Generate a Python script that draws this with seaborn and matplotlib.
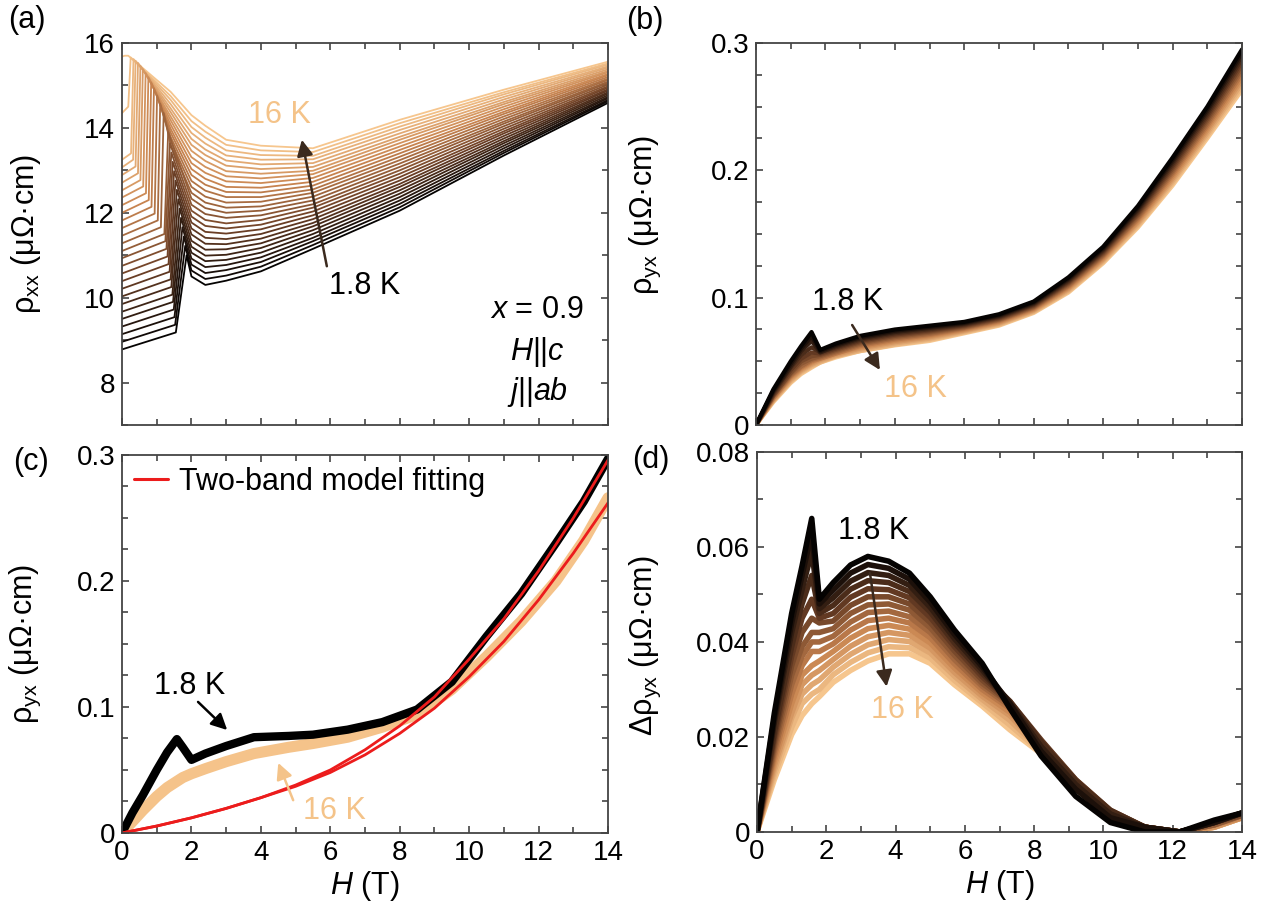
import numpy as np
import pandas as pd
import matplotlib
matplotlib.use("Agg")
import matplotlib.pyplot as plt
from matplotlib.colors import LinearSegmentedColormap
from matplotlib.ticker import MultipleLocator, FuncFormatter
from matplotlib.lines import Line2D
import seaborn as sns

# ---- data ----
# (a) rho_xx curves, 1.8 K (black) ... 16 K (light)
temps_a = ["1.8", "2", "2.25", "2.5", "2.75", "3", "3.5", "4", "4.5", "5", "5.5", "6", "6.5", "7",
           "7.5", "8", "8.5", "9", "9.5", "10", "10.5", "11", "11.5", "12", "13", "14", "15", "16"]
a_r0 = [8.78, 8.96, 9.14, 9.32, 9.50, 9.67, 9.85, 10.03, 10.21, 10.39, 10.57, 10.75, 10.93, 11.10,
        11.28, 11.46, 11.64, 11.82, 12.00, 12.18, 12.36, 12.53, 12.71, 12.89, 13.07, 13.25, 14.35, 15.68]
a_hon = [1.55, 1.53, 1.51, 1.49, 1.47, 1.45, 1.42, 1.40, 1.37, 1.34, 1.31, 1.28, 1.25, 1.22,
         1.12, 1.03, 0.94, 0.85, 0.77, 0.69, 0.61, 0.53, 0.46, 0.39, 0.32, 0.26, 0.18, 0.08]
a_ron = [9.18, 9.36, 9.54, 9.72, 9.90, 10.07, 10.25, 10.43, 10.61, 10.79, 10.97, 11.15, 11.33, 11.50,
         11.66, 11.82, 11.98, 12.14, 12.30, 12.46, 12.62, 12.77, 12.93, 13.09, 13.25, 13.40, 14.50, 15.70]
a_hpk = [1.86, 1.82, 1.78, 1.74, 1.70, 1.66, 1.62, 1.58, 1.54, 1.50, 1.46, 1.42, 1.38, 1.33,
         1.20, 1.10, 1.01, 0.92, 0.84, 0.76, 0.68, 0.60, 0.53, 0.46, 0.39, 0.33, 0.25, 0.18]
a_rpk = [11.00, 11.22, 11.44, 11.66, 11.88, 12.10, 12.32, 12.54, 12.76, 12.98, 13.20, 13.42, 13.64, 13.90,
         14.35, 14.57, 14.76, 14.93, 15.07, 15.19, 15.29, 15.38, 15.46, 15.53, 15.58, 15.62, 15.66, 15.70]
# value at 1.4 T on the falling side (only the curves that peak below 1.4 T)
a_r14 = [None] * 14 + [13.60, 13.70, 13.79, 13.89, 13.98, 14.08, 14.18, 14.27, 14.37, 14.46,
                       14.56, 14.66, 14.75, 14.85]
a_tail_h = [2.0, 2.4, 3.0, 4.0, 5.5, 8.0, 11.0, 14.0]
a_tail = [
    [10.50, 10.64, 10.78, 10.92, 11.06, 11.20, 11.34, 11.49, 11.63, 11.77, 11.91, 12.05, 12.19, 12.33,
     12.47, 12.61, 12.75, 12.89, 13.03, 13.17, 13.31, 13.46, 13.60, 13.74, 13.88, 14.02, 14.16, 14.30],
    [10.30, 10.44, 10.58, 10.72, 10.86, 10.99, 11.13, 11.27, 11.41, 11.55, 11.69, 11.83, 11.97, 12.11,
     12.24, 12.38, 12.52, 12.66, 12.80, 12.94, 13.08, 13.22, 13.36, 13.49, 13.63, 13.77, 13.91, 14.05],
    [10.40, 10.52, 10.65, 10.77, 10.89, 11.01, 11.14, 11.26, 11.38, 11.51, 11.63, 11.75, 11.88, 12.00,
     12.12, 12.24, 12.37, 12.49, 12.61, 12.74, 12.86, 12.98, 13.11, 13.23, 13.35, 13.47, 13.60, 13.72],
    [10.62, 10.73, 10.84, 10.95, 11.06, 11.17, 11.28, 11.39, 11.50, 11.61, 11.72, 11.83, 11.94, 12.05,
     12.15, 12.26, 12.37, 12.48, 12.59, 12.70, 12.81, 12.92, 13.03, 13.14, 13.25, 13.36, 13.47, 13.58],
    [11.15, 11.24, 11.33, 11.41, 11.50, 11.59, 11.68, 11.76, 11.85, 11.94, 12.03, 12.12, 12.20, 12.29,
     12.38, 12.47, 12.55, 12.64, 12.73, 12.82, 12.91, 12.99, 13.08, 13.17, 13.26, 13.34, 13.43, 13.52],
    [12.05, 12.13, 12.21, 12.29, 12.37, 12.45, 12.53, 12.61, 12.68, 12.76, 12.84, 12.92, 13.00, 13.08,
     13.16, 13.24, 13.32, 13.40, 13.48, 13.56, 13.64, 13.72, 13.79, 13.87, 13.95, 14.03, 14.11, 14.19],
    [13.35, 13.41, 13.46, 13.52, 13.58, 13.64, 13.69, 13.75, 13.81, 13.87, 13.92, 13.98, 14.04, 14.10,
     14.15, 14.21, 14.27, 14.33, 14.38, 14.44, 14.50, 14.56, 14.61, 14.67, 14.73, 14.79, 14.84, 14.90],
    [14.59, 14.63, 14.66, 14.70, 14.73, 14.77, 14.81, 14.84, 14.88, 14.91, 14.95, 14.98, 15.02, 15.06,
     15.09, 15.13, 15.16, 15.20, 15.24, 15.27, 15.31, 15.34, 15.38, 15.42, 15.45, 15.49, 15.52, 15.56],
]

# (b) rho_yx, and (d) delta rho_yx
temps_bd = ["1.8", "2.25", "2.75", "3.5", "4.5", "5.5", "6.5", "7.5", "8.5", "9.5", "10.5", "11.5", "13", "16"]
b_h = [0, 0.5, 1.0, 1.3, 1.6, 1.85, 2.3, 3, 4, 5, 6, 7, 8, 9, 10, 11, 12, 13, 14]
b_rows = [
    [0, .028, .050, .062, .073, .059, .064, .070, .075, .0780, .0810, .0870, .0970, .1160, .140, .1720, .2100, .2500, .2950],
    [0, .027, .048, .060, .070, .058, .063, .069, .074, .0771, .0803, .0863, .0963, .1151, .139, .1707, .2083, .2481, .2925],
    [0, .026, .046, .058, .066, .057, .062, .068, .073, .0762, .0796, .0856, .0956, .1142, .138, .1694, .2066, .2462, .2901],
    [0, .025, .045, .055, .061, .057, .061, .067, .072, .0752, .0789, .0849, .0949, .1132, .137, .1681, .2049, .2442, .2876],
    [0, .024, .043, .052, .057, .056, .060, .066, .071, .0743, .0782, .0842, .0942, .1123, .136, .1668, .2032, .2423, .2852],
    [0, .023, .041, .050, .054, .055, .059, .065, .070, .0734, .0775, .0835, .0935, .1114, .135, .1655, .2015, .2404, .2827],
    [0, .023, .040, .048, .052, .054, .058, .064, .069, .0725, .0768, .0828, .0928, .1105, .134, .1642, .1998, .2385, .2802],
    [0, .022, .039, .046, .051, .053, .057, .063, .068, .0715, .0762, .0822, .0922, .1095, .133, .1628, .1982, .2365, .2778],
    [0, .021, .038, .045, .050, .052, .056, .062, .067, .0706, .0755, .0815, .0915, .1086, .132, .1615, .1965, .2346, .2753],
    [0, .021, .037, .044, .049, .052, .056, .061, .066, .0697, .0748, .0808, .0908, .1077, .131, .1602, .1948, .2327, .2728],
    [0, .020, .036, .043, .048, .051, .055, .060, .065, .0688, .0741, .0801, .0901, .1068, .130, .1589, .1931, .2308, .2704],
    [0, .019, .035, .042, .047, .050, .054, .059, .064, .0678, .0734, .0794, .0894, .1058, .129, .1576, .1914, .2288, .2679],
    [0, .019, .034, .041, .046, .049, .054, .058, .063, .0669, .0727, .0787, .0887, .1049, .128, .1563, .1897, .2269, .2655],
    [0, .018, .033, .040, .045, .049, .053, .058, .0625, .0660, .0720, .0780, .0880, .1040, .127, .1550, .1880, .2250, .2630],
]
d_h = [0, 0.5, 1.0, 1.3, 1.58, 1.8, 2.2, 2.7, 3.2, 3.8, 4.4, 5.0, 5.7, 6.5, 7.3, 8.2, 9.2, 10.2, 11.2, 12.2, 13.2, 14]
d_rows = [
    [0, .025, .046, .056, .066, .049, .0525, .0562, .0580, .0570, .0545, .0495, .0425, .0355, .0260, .0160, .0075, .0020, 0, 0, .0025, .004],
    [0, .024, .044, .054, .063, .048, .0509, .0545, .0563, .0555, .0532, .0484, .0416, .0348, .0270, .0170, .0090, .0030, .001, 0, .0020, .004],
    [0, .023, .042, .051, .059, .047, .0493, .0528, .0546, .0540, .0519, .0473, .0407, .0341, .0272, .0180, .0100, .0038, .001, 0, .0020, .004],
    [0, .021, .039, .048, .054, .046, .0477, .0511, .0529, .0525, .0506, .0463, .0398, .0334, .0275, .0190, .0108, .0045, .001, 0, .0020, .004],
    [0, .020, .037, .045, .049, .045, .0460, .0494, .0512, .0510, .0493, .0452, .0390, .0327, .0275, .0194, .0110, .0046, .001, 0, .0020, .004],
    [0, .019, .035, .042, .045, .044, .0444, .0477, .0495, .0495, .0480, .0441, .0381, .0320, .0272, .0192, .0110, .0045, .001, 0, .0020, .0035],
    [0, .018, .033, .039, .042, .042, .0428, .0460, .0478, .0480, .0467, .0430, .0372, .0313, .0270, .0190, .0108, .0042, .001, 0, .0015, .0035],
    [0, .017, .031, .037, .040, .040, .0412, .0442, .0462, .0465, .0453, .0420, .0363, .0307, .0265, .0187, .0105, .0040, .001, 0, .0015, .0035],
    [0, .016, .029, .035, .038, .038, .0396, .0425, .0445, .0450, .0440, .0409, .0354, .0300, .0260, .0183, .0102, .0038, .001, 0, .0015, .0035],
    [0, .015, .027, .033, .035, .036, .0380, .0408, .0428, .0435, .0427, .0398, .0345, .0293, .0252, .0180, .0100, .0036, .001, 0, .0015, .003],
    [0, .014, .025, .031, .033, .034, .0363, .0391, .0411, .0420, .0414, .0387, .0336, .0286, .0245, .0176, .0098, .0034, .0005, 0, .0010, .003],
    [0, .013, .024, .029, .031, .032, .0347, .0374, .0394, .0405, .0401, .0377, .0328, .0279, .0235, .0172, .0095, .0032, .0005, 0, .0010, .003],
    [0, .012, .022, .027, .029, .030, .0331, .0357, .0377, .0390, .0388, .0366, .0319, .0272, .0225, .0168, .0092, .0031, .0005, 0, .0010, .003],
    [0, .011, .0205, .0245, .027, .0285, .0315, .0340, .0360, .0375, .0375, .0355, .0310, .0265, .0215, .0165, .0090, .0030, .0005, 0, .0010, .003],
]

# (c) 1.8 K and 16 K rho_yx with two-band fits
c_h = [0, 0.3, 0.6, 1.0, 1.3, 1.58, 1.75, 2.0, 2.4, 3, 3.8, 4.8, 5.5, 6.5, 7.5, 8.5, 9.5, 10.5, 11.5, 12.5, 13.3, 14]
c_18 = [0, .016, .030, .050, .064, .0745, .068, .058, .063, .069, .076, .077, .078, .082, .088, .098, .120,
        .156, .190, .230, .263, .297]
c_16 = [0, .009, .018, .029, .036, .041, .044, .047, .051, .0566, .063, .068, .071, .076, .084, .094, .114,
        .140, .168, .200, .232, .266]
fit_h = [0, 1, 2, 3, 4, 5, 6, 7, 8, 9, 10, 11, 12, 13, 14]
fit_18 = [0, .0055, .012, .0195, .028, .038, .050, .066, .085, .108, .138, .170, .208, .250, .296]
fit_16 = [0, .0055, .012, .0195, .028, .037, .048, .062, .079, .099, .124, .152, .185, .222, .262]

# ---- style ----
sns.set_theme(style="ticks")
plt.rcParams["font.family"] = ["Liberation Sans", "DejaVu Sans"]
plt.rcParams["mathtext.fontset"] = "custom"
plt.rcParams["mathtext.rm"] = "Liberation Sans"
plt.rcParams["mathtext.it"] = "Liberation Sans:italic"
for key in ("text.color", "axes.labelcolor", "xtick.labelcolor", "ytick.labelcolor"):
    plt.rcParams[key] = "black"
FS = 22      # labels and annotations
TS = 20      # tick labels
plt.rcParams["font.size"] = FS

cmap = LinearSegmentedColormap.from_list("bt", ["#050302", "#6a3e25", "#c7834f", "#f6c68e"])
light = "#f4c389"
arrow_brown = "#3b2a1e"

fig = plt.figure(figsize=(12.71, 9.05), dpi=100)
ax_a = fig.add_axes([0.0960, 0.5304, 0.3824, 0.4221])
ax_b = fig.add_axes([0.5948, 0.5304, 0.3824, 0.4221])
ax_c = fig.add_axes([0.0960, 0.0796, 0.3824, 0.4177])
ax_d = fig.add_axes([0.5956, 0.0807, 0.3816, 0.4199])

# (a)
rows = []
for i, t in enumerate(temps_a):
    hs = [0, a_hon[i], a_hpk[i]]
    vs = [a_r0[i], a_ron[i], a_rpk[i]]
    if a_r14[i] is not None:
        hs.append(1.4)
        vs.append(a_r14[i])
    hs += a_tail_h
    vs += [col[i] for col in a_tail]
    rows += [(t, h, v) for h, v in zip(hs, vs)]
df_a = pd.DataFrame(rows, columns=["T", "H", "val"])
pal_a = {t: cmap(i / (len(temps_a) - 1)) for i, t in enumerate(temps_a)}
sns.lineplot(data=df_a, x="H", y="val", hue="T", hue_order=temps_a[::-1], palette=pal_a,
             estimator=None, sort=False, legend=False, lw=1.3, ax=ax_a)

# (b) and (d)
pal_bd = {t: cmap(i / (len(temps_bd) - 1)) for i, t in enumerate(temps_bd)}


def fan(ax, hs, table, lw):
    recs = [(t, h, v) for t, r in zip(temps_bd, table) for h, v in zip(hs, r)]
    df = pd.DataFrame(recs, columns=["T", "H", "val"])
    sns.lineplot(data=df, x="H", y="val", hue="T", hue_order=temps_bd[::-1], palette=pal_bd,
                 estimator=None, sort=False, legend=False, lw=lw, ax=ax)


fan(ax_b, b_h, b_rows, 3.0)
fan(ax_d, d_h, d_rows, 4.0)

# (c)
red = "#ec1c1c"
sns.lineplot(x=c_h, y=c_16, color="#f5c38a", lw=8, sort=False, ax=ax_c)
sns.lineplot(x=c_h, y=c_18, color="black", lw=6, sort=False, ax=ax_c)
sns.lineplot(x=fit_h, y=fit_16, color=red, lw=2, sort=False, ax=ax_c)
sns.lineplot(x=fit_h, y=fit_18, color=red, lw=2, sort=False, ax=ax_c)
ax_c.legend(handles=[Line2D([0], [0], color=red, lw=2.2)], labels=["Two-band model fitting"],
            loc="upper left", bbox_to_anchor=(0, 1), frameon=False, handlelength=1.1,
            handletextpad=0.35, borderaxespad=0, borderpad=0.4, fontsize=FS)

# axes formatting
fmt = FuncFormatter(lambda v, p: "0" if abs(v) < 1e-9 else f"{v:g}")
lims = {ax_a: (7, 16, 2, 1), ax_b: (0, 0.3, 0.1, 0.025), ax_c: (0, 0.3, 0.1, 0.025), ax_d: (0, 0.08, 0.02, 0.01)}
for ax, (y0, y1, maj, mnr) in lims.items():
    ax.set_xlim(0, 14)
    ax.set_ylim(y0, y1)
    ax.xaxis.set_major_locator(MultipleLocator(2))
    ax.xaxis.set_minor_locator(MultipleLocator(1))
    ax.yaxis.set_major_locator(MultipleLocator(maj))
    ax.yaxis.set_minor_locator(MultipleLocator(mnr))
    ax.xaxis.set_major_formatter(fmt)
    ax.yaxis.set_major_formatter(fmt)
    ax.tick_params(which="both", direction="in", top=True, right=True, width=1.2,
                   color="#444444", labelsize=TS, labelcolor="black", pad=5)
    ax.tick_params(which="major", length=5)
    ax.tick_params(which="minor", length=4)
    for s in ax.spines.values():
        s.set_color("#444444")
        s.set_linewidth(1.3)
    ax.set_xlabel("")
    ax.set_ylabel("")

ax_a.tick_params(labelbottom=False)
ax_b.tick_params(labelbottom=False)

ax_a.set_ylabel("ρ$_{\\mathrm{xx}}$ (μΩ·cm)", fontsize=FS)
ax_b.set_ylabel("ρ$_{\\mathrm{yx}}$ (μΩ·cm)", fontsize=FS)
ax_c.set_ylabel("ρ$_{\\mathrm{yx}}$ (μΩ·cm)", fontsize=FS)
ax_d.set_ylabel("Δρ$_{\\mathrm{yx}}$ (μΩ·cm)", fontsize=FS)
ax_a.yaxis.set_label_coords(-0.163, 0.5)
ax_b.yaxis.set_label_coords(-0.191, 0.55)
ax_c.yaxis.set_label_coords(-0.163, 0.5)
ax_d.yaxis.set_label_coords(-0.194, 0.49)
for ax in (ax_c, ax_d):
    ax.set_xlabel("$\\mathit{H}$ (T)", fontsize=FS)
    ax.xaxis.set_label_coords(0.5, -0.095)

# annotations
arr = dict(arrowstyle="-|>", color=arrow_brown, lw=1.8, mutation_scale=24, shrinkA=0, shrinkB=0)
ax_a.annotate("", xy=(5.18, 13.72), xytext=(5.9, 10.74), arrowprops=arr)
ax_a.text(4.53, 14.3, "16 K", color=light, fontsize=FS, ha="center", va="center")
ax_a.text(7.0, 10.28, "1.8 K", color="black", fontsize=FS, ha="center", va="center")
ax_a.text(0.854, 0.301, "$\\mathit{x}$ = 0.9", transform=ax_a.transAxes, fontsize=FS, ha="center", va="center")
ax_a.text(0.854, 0.191, "$\\mathit{H}$||$\\mathit{c}$", transform=ax_a.transAxes, fontsize=FS, ha="center", va="center")
ax_a.text(0.854, 0.086, "$\\mathit{j}$||$\\mathit{ab}$", transform=ax_a.transAxes, fontsize=FS, ha="center", va="center")

ax_b.annotate("", xy=(3.57, 0.0432), xytext=(2.77, 0.0785), arrowprops=arr)
ax_b.text(2.63, 0.0966, "1.8 K", color="black", fontsize=FS, ha="center", va="center")
ax_b.text(4.58, 0.0283, "16 K", color=light, fontsize=FS, ha="center", va="center")

ax_c.annotate("", xy=(3.03, 0.0817), xytext=(2.19, 0.104),
              arrowprops=dict(arr, color="black"))
ax_c.text(1.96, 0.1167, "1.8 K", color="black", fontsize=FS, ha="center", va="center")
ax_c.annotate("", xy=(4.50, 0.0556), xytext=(4.93, 0.026),
              arrowprops=dict(arr, color=light))
ax_c.text(6.11, 0.0175, "16 K", color=light, fontsize=FS, ha="center", va="center")

ax_d.annotate("", xy=(3.74, 0.0306), xytext=(3.26, 0.0545), arrowprops=arr)
ax_d.text(3.38, 0.0634, "1.8 K", color="black", fontsize=FS, ha="center", va="center")
ax_d.text(4.19, 0.0257, "16 K", color=light, fontsize=FS, ha="center", va="center")

# panel letters
W, Hf = 1271, 905
for lab, (px, py) in {"(a)": (27, 20), "(b)": (645, 21), "(c)": (31, 462), "(d)": (651, 460)}.items():
    fig.text(px / W, 1 - py / Hf, lab, fontsize=FS, color="black", ha="center", va="center")

fig.savefig("out.png", dpi=100, facecolor="white")
